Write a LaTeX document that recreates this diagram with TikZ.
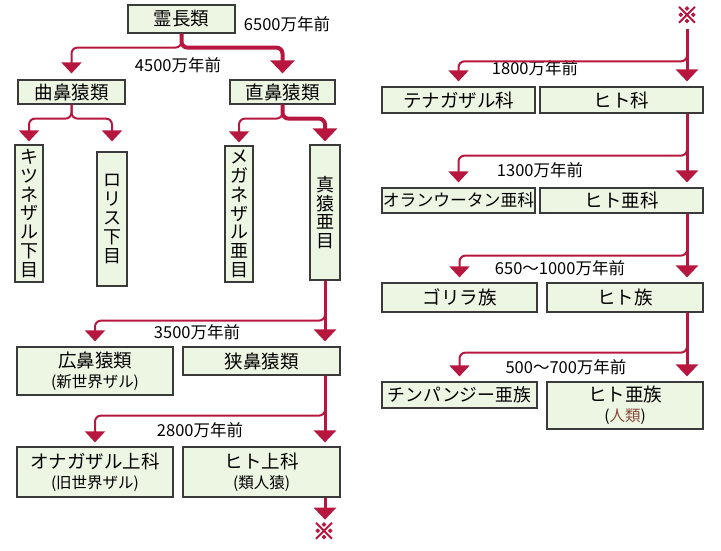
\documentclass[tikz,border=0pt]{standalone}
\usepackage{fontspec}
\setmainfont{Noto Sans CJK JP}
\newfontfamily\komefont{Noto Sans CJK JP}[FakeBold=5]
\usetikzlibrary{arrows.meta}

\definecolor{arrowred}{HTML}{B7173F}
\definecolor{boxgreen}{HTML}{EDF5E3}
\definecolor{boxline}{HTML}{3A3A3A}
\definecolor{jinrui}{HTML}{8A4B3C}
\newcommand{\subnote}[1]{{\fontsize{15.5}{17}\selectfont #1}}

\begin{document}
\begin{tikzpicture}[x=1pt,y=-1pt,
    box/.style={draw=boxline, line width=1.2pt, fill=boxgreen, inner sep=0pt,
      align=center, font=\fontsize{18.5}{20}\selectfont},
    vbox/.style={box, minimum width=28pt, font=\fontsize{18}{18.8}\selectfont},
    era/.style={font=\fontsize{16.5}{18}\selectfont},
    kome/.style={text=arrowred, font=\komefont\fontsize{22}{24}\selectfont, inner sep=0pt},
    branch/.style={draw=arrowred, line width=2pt, rounded corners=6pt,
      -{Triangle[width=20pt,length=11pt]}, shorten >=5pt},
    trunk/.style={branch, line width=3pt, -{Triangle[width=22pt,length=12pt]}},
    boldline/.style={branch, line width=4pt, -{Triangle[width=24pt,length=13pt]}}]
  \useasboundingbox (0,0) rectangle (721,550);

  \node[box, minimum width=107pt, minimum height=28pt] (prim) at (181.5,19) {霊長類};
  \node[era] (t65) at (287,24) {6500万年前};
  \node[era] (t45) at (178,65) {4500万年前};
  \node[box, minimum width=107pt, minimum height=24pt] (kyoku) at (71.5,92) {曲鼻猿類};
  \node[box, minimum width=105pt, minimum height=24pt] (choku) at (282.5,92) {直鼻猿類};

  \node[vbox, minimum height=137pt] (kitsune) at (29,213.5) {キ\\ツ\\ネ\\ザ\\ル\\下\\目};
  \node[vbox, minimum width=30pt, minimum height=134pt] (loris) at (112,219) {ロ\\リ\\ス\\下\\目};
  \node[vbox, minimum height=136pt] (megane) at (239,214) {メ\\ガ\\ネ\\ザ\\ル\\亜\\目};
  \node[vbox, minimum width=30pt, minimum height=135pt] (shinen) at (325,212.5) {真\\猿\\亜\\目};

  \node[era] (t35) at (197,332) {3500万年前};
  \node[box, minimum width=156pt, minimum height=48pt] (kobi) at (95,371) {広鼻猿類\\\subnote{(新世界ザル)}};
  \node[box, minimum width=157pt, minimum height=28pt] (kyobi) at (261.5,361) {狭鼻猿類};
  \node[era] (t28) at (200,430) {2800万年前};
  \node[box, minimum width=156pt, minimum height=50pt] (onaga) at (95,472) {オナガザル上科\\\subnote{(旧世界ザル)}};
  \node[box, minimum width=157pt, minimum height=50pt] (hitojo) at (261.5,472) {ヒト上科\\\subnote{(類人猿)}};
  \node[kome] (kome1) at (324,531) {※};

  \node[kome] (kome2) at (687,15) {※};
  \node[era] (t18) at (535,68) {1800万年前};
  \node[box, minimum width=153pt, minimum height=26pt] (tena) at (458.5,100) {テナガザル科};
  \node[box, minimum width=163pt, minimum height=26pt] (hitoka) at (621.5,100) {ヒト科};
  \node[era] (t13) at (540,170) {1300万年前};
  \node[box, minimum width=153pt, minimum height=25pt, font=\fontsize{16.8}{18}\selectfont] (oran) at (458.5,200.5) {オランウータン亜科};
  \node[box, minimum width=163pt, minimum height=25pt] (hitoaka) at (621.5,200.5) {ヒト亜科};
  \node[era] (t10) at (560,268) {650〜1000万年前};
  \node[box, minimum width=155pt, minimum height=29pt] (gorira) at (459.5,297.5) {ゴリラ族};
  \node[box, minimum width=156pt, minimum height=29pt] (hitozoku) at (625,297.5) {ヒト族};
  \node[era] (t7) at (566,367) {500〜700万年前};
  \node[box, minimum width=155pt, minimum height=26pt, font=\fontsize{17.8}{19}\selectfont] (chimp) at (459.5,395) {チンパンジー亜族};
  \node[box, minimum width=156pt, minimum height=47pt] (hitoazoku) at (625,405.5) {ヒト亜族\\\subnote{(\textcolor{jinrui}{人類})}};

  \draw[branch, shorten >=6pt] (prim.south) -- ++(0,14) -| (kyoku.north);
  \draw[boldline, shorten >=6pt] (prim.south) -- ++(0,14) -| (choku.north);
  \draw[branch, shorten >=3pt] (kyoku.south) -- ++(0,14) -| (kitsune.north);
  \draw[branch, shorten >=10pt] (kyoku.south) -- ++(0,14) -| (loris.north);
  \draw[branch, shorten >=3pt] (choku.south) -- ++(0,14) -| (megane.north);
  \draw[boldline, shorten >=3pt] (choku.south) -- ++(0,14) -| (shinen.north);

  \draw[branch] (shinen.south) -- ++(0,40) -| (kobi.north);
  \draw[trunk] (shinen.south) -- (kyobi.north -| shinen.south);
  \draw[branch, shorten >=4pt] (kyobi.south -| shinen.south) -- ++(0,40) -| (onaga.north);
  \draw[trunk, shorten >=4pt] (kyobi.south -| shinen.south) -- (hitojo.north -| shinen.south);
  \draw[trunk, shorten >=3pt] (hitojo.south -| shinen.south) -- (kome1.north -| shinen.south);

  \draw[branch] (kome2.south) ++(0,6) -- ++(0,32) -| (tena.north);
  \draw[trunk] (kome2.south) ++(0,6) -- (hitoka.north -| kome2.south);
  \draw[branch] (hitoka.south -| kome2.south) -- ++(0,42) -| (oran.north);
  \draw[trunk] (hitoka.south -| kome2.south) -- (hitoaka.north -| kome2.south);
  \draw[branch] (hitoaka.south -| kome2.south) -- ++(0,42) -| (gorira.north);
  \draw[trunk] (hitoaka.south -| kome2.south) -- (hitozoku.north -| kome2.south);
  \draw[branch] (hitozoku.south -| kome2.south) -- ++(0,40) -| (chimp.north);
  \draw[trunk] (hitozoku.south -| kome2.south) -- (hitoazoku.north -| kome2.south);
\end{tikzpicture}
\end{document}
